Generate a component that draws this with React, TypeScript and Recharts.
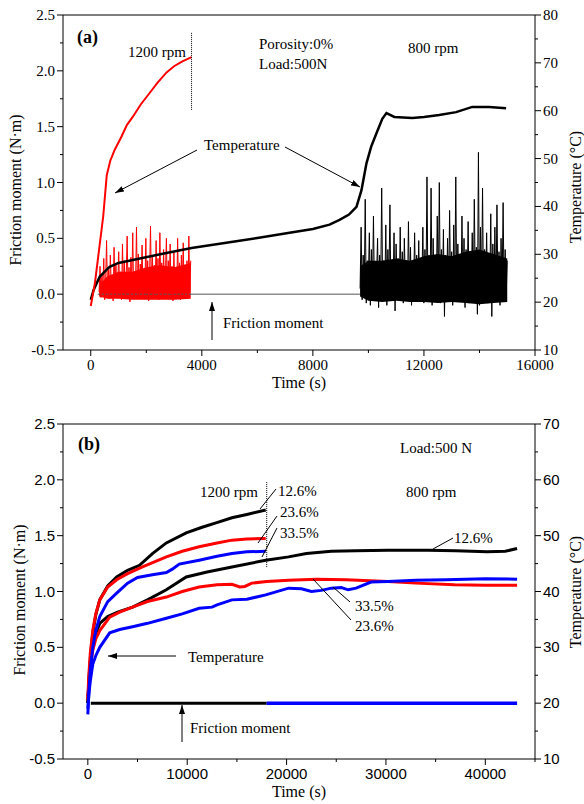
import React from 'react';
import { ComposedChart, Line, Area, XAxis, YAxis, ReferenceLine } from 'recharts';

// ---------- panel (a): porosity 0 %, load 500 N ----------
// temperature, [time s, °C]
const tempRedA: [number, number][] = [
  [0, 19.2], [150, 24], [300, 31], [450, 38], [575, 46.5], [700, 49.5], [860, 51.8],
  [1100, 54.5], [1300, 57], [1510, 58.7], [1800, 61.3], [2120, 63.7], [2400, 65.8],
  [2730, 68], [3000, 69.3], [3300, 70.3], [3630, 71.2],
];
const tempBlackA: [number, number][] = [
  [0, 20.5], [100, 22.5], [320, 25.3], [680, 27.4], [1000, 28.2], [1510, 28.8], [2500, 30],
  [3630, 31.3], [5000, 32.5], [6000, 33.4], [7160, 34.5], [8000, 35.3], [8600, 36.2], [8960, 37.2],
  [9300, 38.3], [9570, 39.9], [9750, 43.4], [9930, 49], [10100, 52.5], [10290, 55.3],
  [10500, 58.3], [10650, 59.5], [10935, 58.7], [11580, 58.5], [12000, 58.7], [12550, 59.1],
  [13160, 59.7], [13740, 60.8], [14350, 60.8], [14960, 60.5],
];
// friction moment (N·m) spikes, sampled evenly between start and end time
const redFricStartA = 300;
const redFricEndA = 3600;
const redFricA = [
  0.02, 0.25, -0.03, 0.18, 0.05, 0.32, -0.05, 0.12, 0.48, 0.0, 0.22, -0.04, 0.35, 0.08, 0.15,
  -0.06, 0.42, 0.03, 0.28, -0.02, 0.1, 0.38, 0.0, 0.2, -0.05, 0.45, 0.06, 0.3, -0.03, 0.16,
  0.52, 0.02, 0.24, -0.07, 0.33, 0.1, 0.55, -0.02, 0.2, 0.08, 0.6, 0.0, 0.36, -0.04, 0.27,
  0.12, 0.44, -0.03, 0.22, 0.05, 0.5, 0.01, 0.3, -0.06, 0.18, 0.61, 0.04, 0.35, -0.02, 0.26,
  0.09, 0.48, 0.0, 0.32, -0.05, 0.55, 0.07, 0.28, -0.03, 0.4, 0.02, 0.2, 0.5, -0.04, 0.3,
  0.08, 0.45, 0.0, 0.25, -0.06, 0.38, 0.05, 0.22, -0.02, 0.5, 0.03, 0.28, -0.05, 0.35, 0.1,
  0.46, -0.03, 0.2, 0.06, 0.3, -0.04, 0.52, 0.02, 0.3,
];
// dense core of the friction signal, [time, low, high]
const redCoreA: [number, number, number][] = [
  [300, -0.02, 0.08], [600, -0.04, 0.16], [1000, -0.04, 0.2], [1500, -0.05, 0.2],
  [2000, -0.05, 0.24], [2500, -0.05, 0.26], [3000, -0.05, 0.24], [3600, -0.04, 0.28],
];
const blackFricStartA = 9700;
const blackFricEndA = 15000;
const blackFricA = [
  0.05, 0.6, -0.05, 0.35, 0.0, 0.85, -0.08, 0.3, 0.1, 0.55, -0.1, 0.4, 0.02, 0.7, -0.06,
  0.25, 0.15, 0.5, -0.12, 0.35, 0.05, 0.95, -0.04, 0.3, 0.0, 0.62, -0.1, 0.4, 0.08, 0.8,
  -0.05, 0.28, 0.02, 0.55, -0.15, 0.45, 0.06, 0.32, -0.03, 0.6, 0.0, 0.38, -0.08, 0.5, 0.1,
  0.3, -0.05, 0.65, 0.02, 0.42, -0.1, 0.28, 0.05, 0.55, -0.06, 0.35, 0.0, 0.48, -0.04, 0.3,
  0.08, 0.6, -0.08, 0.4, 0.03, 1.05, -0.05, 0.35, 0.0, 0.95, -0.1, 0.5, 0.06, 0.3, -0.03,
  0.7, 0.02, 1.0, -0.08, 0.4, 0.05, 0.58, -0.2, 0.35, 0.0, 0.5, -0.05, 0.75, 0.04, 0.38,
  -0.1, 0.62, 0.02, 1.05, -0.06, 0.45, 0.08, 0.35, -0.04, 0.7, 0.0, 0.5, -0.12, 0.4, 0.05,
  0.65, -0.08, 0.3, 0.02, 0.55, -0.05, 0.85, 0.06, 0.42, -0.18, 1.27, -0.1, 0.6, 0.0, 0.95,
  -0.06, 0.4, 0.04, 0.55, -0.08, 0.35, 0.02, 0.72, -0.2, 0.45, 0.0, 0.6, -0.05, 0.8, 0.03,
  0.38, -0.1, 0.5, 0.05, 0.82, -0.06, 0.4, 0.0, 0.3,
];
const blackCoreA: [number, number, number][] = [
  [9700, -0.02, 0.25], [10000, -0.06, 0.3], [10500, -0.07, 0.3], [11000, -0.06, 0.32],
  [11500, -0.07, 0.3], [12000, -0.07, 0.34], [12500, -0.08, 0.36], [13000, -0.07, 0.34],
  [13500, -0.08, 0.38], [14000, -0.09, 0.4], [14500, -0.08, 0.36], [15000, -0.07, 0.32],
];
const zeroLineA: [number, number][] = [[250, 0], [9700, 0]];

const xTicksA = [0, 2000, 4000, 6000, 8000, 10000, 12000, 14000, 16000];
const tempTicksA = [10, 15, 20, 25, 30, 35, 40, 45, 50, 55, 60, 65, 70, 75, 80];

// ---------- panel (b): load 500 N, three porosities ----------
const hiBlackB: [number, number][] = [
  [0, 20], [100, 24], [250, 28], [500, 32.6], [800, 35.8], [1200, 38.5], [2000, 41], [2900, 42.6],
  [4000, 43.8], [5200, 44.7], [6500, 46.8], [7900, 48.7], [9900, 50.5], [11500, 51.5],
  [12900, 52.3], [14500, 53.2], [16000, 53.8], [17900, 54.6],
];
const hiRedB: [number, number][] = [
  [0, 21], [100, 25], [250, 29], [500, 33], [800, 36], [1200, 38.5], [2000, 40.8], [2900, 42.1],
  [4000, 43.2], [5500, 44.4], [7900, 46.2], [9500, 47.2], [11200, 48], [13000, 48.7],
  [14500, 49.2], [16000, 49.4], [17900, 49.5],
];
const hiBlueB: [number, number][] = [
  [0, 18], [100, 22], [250, 26], [500, 30], [800, 33], [1200, 35.5], [2000, 38.2], [2900, 39.7],
  [4000, 41.5], [5000, 42.5], [6500, 43], [7900, 43.4], [8500, 44], [9200, 44.9], [11200, 45.6],
  [13000, 46.3], [14500, 46.8], [16000, 47.1], [17900, 47.2],
];
const loBlackB: [number, number][] = [
  [0, 20], [100, 23.5], [250, 27], [500, 30.5], [800, 32.5], [1200, 34.3], [2000, 35.5],
  [3000, 36.3], [4500, 37.2], [6000, 38.5], [7900, 40.3], [9900, 42.6], [12000, 43.5],
  [14500, 44.4], [17900, 45.6], [20200, 46.2], [22000, 46.8], [24500, 47.2], [27000, 47.3],
  [30200, 47.4], [34200, 47.4], [37000, 47.3], [40200, 47.1], [42000, 47.2], [43200, 47.7],
];
const loRedB: [number, number][] = [
  [0, 20.5], [100, 23], [250, 26.5], [500, 29.5], [800, 31.5], [1200, 33], [2200, 35.4],
  [3200, 36.3], [4500, 37.2], [6000, 38.2], [7900, 39], [9500, 40], [11200, 40.8], [13000, 41.2],
  [14500, 41.3], [15300, 40.8], [15800, 40.9], [16500, 41.5], [18000, 41.8], [20200, 42],
  [23000, 42.2], [26000, 42.1], [30200, 41.8], [33000, 41.5], [36900, 41.2], [40000, 41.1],
  [43200, 41.1],
];
const loBlueB: [number, number][] = [
  [0, 19], [100, 21.5], [250, 24], [500, 27], [800, 28.5], [1200, 30], [2200, 32.6], [3200, 33.2],
  [4500, 33.7], [6000, 34.3], [7900, 35.2], [9500, 36], [11200, 37], [12500, 37.2], [13000, 37.6],
  [14500, 38.5], [16000, 38.6], [17900, 39.4], [20200, 40.6], [21500, 40.5], [22500, 40],
  [23500, 40.2], [24500, 40.6], [25500, 40.7], [26200, 40.3], [27000, 40.6], [28500, 41.7],
  [30200, 41.8], [33000, 42], [36000, 42.1], [40000, 42.3], [43200, 42.2],
];
const fricBlackB: [number, number][] = [[300, 0], [18000, 0]];
const fricBlueB: [number, number][] = [[18000, 0], [43200, 0]];

const xTicksB = [0, 5000, 10000, 15000, 20000, 25000, 30000, 35000, 40000, 45000];
const tempTicksB = [10, 15, 20, 25, 30, 35, 40, 45, 50, 55, 60, 65, 70];
const fricTicks = [-0.5, -0.25, 0, 0.25, 0.5, 0.75, 1, 1.25, 1.5, 1.75, 2, 2.25, 2.5];

const SERIF = 'Liberation Serif';
const SANS = 'Liberation Sans';

const pts = (a: [number, number][]) => a.map(([t, v]) => ({ t, v }));
const band = (a: [number, number, number][]) => a.map(([t, lo, hi]) => ({ t, r: [lo, hi] }));
const spread = (vals: number[], t0: number, t1: number) =>
  vals.map((v, i) => ({ t: t0 + ((t1 - t0) * i) / (vals.length - 1), v }));

const near = (v: number, step: number) => Math.abs(v / step - Math.round(v / step)) < 1e-6;

function tickFor(side: 'left' | 'right' | 'bottom', step: number, fmt: (v: number) => string, font: string) {
  return (p: any) => {
    const { x, y, payload } = p;
    const v = payload.value;
    const major = near(v, step);
    const len = major ? 6 : 3;
    const ts = { fontFamily: font, fontSize: 15, fill: '#000' };
    if (side === 'bottom')
      return (
        <g>
          <line x1={x} y1={y} x2={x} y2={y + len} stroke="#000" />
          {major && <text x={x} y={y + 20} textAnchor="middle" style={ts}>{fmt(v)}</text>}
        </g>
      );
    if (side === 'left')
      return (
        <g>
          <line x1={x - len} y1={y} x2={x} y2={y} stroke="#000" />
          {major && <text x={x - 8} y={y + 5} textAnchor="end" style={ts}>{fmt(v)}</text>}
        </g>
      );
    return (
      <g>
        <line x1={x} y1={y} x2={x + len} y2={y} stroke="#000" />
        {major && <text x={x + 8} y={y + 5} textAnchor="start" style={ts}>{fmt(v)}</text>}
      </g>
    );
  };
}

const f1 = (v: number) => v.toFixed(1);
const f0 = (v: number) => String(v);

function Overlay() {
  const t = { fontFamily: SERIF, fontSize: 15, fill: '#000' };
  const ln = { stroke: '#000', strokeWidth: 1 };
  return (
    <svg width={584} height={804} style={{ position: 'absolute', left: 0, top: 0, pointerEvents: 'none' }}>
      <defs>
        <marker id="ah" markerWidth="9" markerHeight="6" refX="9" refY="3" orient="auto" markerUnits="userSpaceOnUse">
          <path d="M0,0 L9,3 L0,6 Z" fill="#000" />
        </marker>
      </defs>
      {/* axis titles */}
      <text transform="translate(21,190) rotate(-90)" textAnchor="middle" style={{ ...t, fontSize: 16 }}>Friction moment (N·m)</text>
      <text transform="translate(581,187) rotate(-90)" textAnchor="middle" style={{ ...t, fontSize: 16 }}>Temperature (°C)</text>
      <text x={299} y={388} textAnchor="middle" style={{ ...t, fontSize: 16 }}>Time (s)</text>
      <text transform="translate(25,600) rotate(-90)" textAnchor="middle" style={{ ...t, fontSize: 16 }}>Friction moment (N·m)</text>
      <text transform="translate(581,592) rotate(-90)" textAnchor="middle" style={{ ...t, fontSize: 16 }}>Temperature (°C)</text>
      <text x={299} y={797} textAnchor="middle" style={{ ...t, fontSize: 16 }}>Time (s)</text>

      {/* panel (a) notes */}
      <text x={77} y={43} style={{ ...t, fontSize: 18, fontWeight: 'bold' }}>(a)</text>
      <text x={128} y={57} style={t}>1200 rpm</text>
      <text x={259} y={49} style={t}>Porosity:0%</text>
      <text x={259} y={69} style={t}>Load:500N</text>
      <text x={408} y={53} style={t}>800 rpm</text>
      <text x={204} y={150} style={t}>Temperature</text>
      <line x1={197} y1={150} x2={115} y2={193} {...ln} markerEnd="url(#ah)" />
      <line x1={285} y1={147} x2={360} y2={187} {...ln} markerEnd="url(#ah)" />
      <text x={223} y={328} style={t}>Friction moment</text>
      <line x1={212} y1={340} x2={212} y2={302} {...ln} markerEnd="url(#ah)" />

      {/* panel (b) notes */}
      <text x={78} y={450} style={{ ...t, fontSize: 18, fontWeight: 'bold' }}>(b)</text>
      <text x={400} y={453} style={t}>Load:500 N</text>
      <text x={200} y={497} style={t}>1200 rpm</text>
      <text x={406} y={497} style={t}>800 rpm</text>
      <text x={278} y={496} style={t}>12.6%</text>
      <text x={280} y={517} style={t}>23.6%</text>
      <text x={280} y={538} style={t}>33.5%</text>
      <line x1={260} y1={509} x2={276} y2={489} {...ln} />
      <line x1={258} y1={543} x2={277} y2={516} {...ln} />
      <line x1={262} y1={557} x2={277} y2={528} {...ln} />
      <text x={454} y={543} style={t}>12.6%</text>
      <line x1={433} y1={549} x2={453} y2={538} {...ln} />
      <text x={355} y={611} style={t}>33.5%</text>
      <line x1={333} y1={587} x2={350} y2={602} {...ln} />
      <text x={355} y={631} style={t}>23.6%</text>
      <line x1={313} y1={579} x2={351} y2={620} {...ln} />
      <text x={188} y={662} style={t}>Temperature</text>
      <line x1={176} y1={656} x2={108} y2={656} {...ln} markerEnd="url(#ah)" />
      <text x={190} y={733} style={t}>Friction moment</text>
      <line x1={182} y1={742} x2={182} y2={705} {...ln} markerEnd="url(#ah)" />
    </svg>
  );
}

export default function App() {
  const axisLine = { stroke: '#000', strokeWidth: 1 };
  return (
    <div style={{ position: 'absolute', left: 0, top: 0, width: 584, height: 804, background: '#fff' }}>
      <div style={{ position: 'absolute', left: 0, top: 0 }}>
        <ComposedChart width={584} height={400} margin={{ top: 15, right: 0, bottom: 0, left: 0 }}>
          <XAxis dataKey="t" type="number" domain={[-1000, 16000]} ticks={xTicksA} interval={0}
            allowDataOverflow height={50} tickSize={0} tickMargin={0} tickLine={false} axisLine={axisLine}
            tick={tickFor('bottom', 4000, f0, SERIF)} />
          <YAxis yAxisId="f" orientation="left" domain={[-0.5, 2.5]} ticks={fricTicks} interval={0}
            allowDataOverflow width={63} tickSize={0} tickMargin={0} tickLine={false} axisLine={axisLine}
            tick={tickFor('left', 0.5, f1, SERIF)} />
          <YAxis yAxisId="T" orientation="right" domain={[10, 80]} ticks={tempTicksA} interval={0}
            allowDataOverflow width={49} tickSize={0} tickMargin={0} tickLine={false} axisLine={axisLine}
            tick={tickFor('right', 10, f0, SERIF)} />
          <ReferenceLine yAxisId="f" y={2.5} stroke="#000" />
          <Line yAxisId="f" data={pts(zeroLineA)} dataKey="v" stroke="#555" strokeWidth={1} dot={false} isAnimationActive={false} />
          <Area yAxisId="f" data={band(redCoreA)} dataKey="r" type="linear" stroke="none" fill="#ff0000" fillOpacity={1} isAnimationActive={false} />
          <Line yAxisId="f" data={spread(redFricA, redFricStartA, redFricEndA)} dataKey="v" stroke="#ff0000" strokeWidth={1} dot={false} isAnimationActive={false} />
          <Area yAxisId="f" data={band(blackCoreA)} dataKey="r" type="linear" stroke="none" fill="#000" fillOpacity={1} isAnimationActive={false} />
          <Line yAxisId="f" data={spread(blackFricA, blackFricStartA, blackFricEndA)} dataKey="v" stroke="#000" strokeWidth={1} dot={false} isAnimationActive={false} />
          <Line yAxisId="T" data={pts(tempBlackA)} dataKey="v" stroke="#000" strokeWidth={2.5} dot={false} isAnimationActive={false} />
          <Line yAxisId="T" data={pts(tempRedA)} dataKey="v" stroke="#ff0000" strokeWidth={2} dot={false} isAnimationActive={false} />
          <ReferenceLine yAxisId="f" segment={[{ x: 3630, y: 2.34 }, { x: 3630, y: 1.65 }]} stroke="#000" strokeDasharray="1 1" />
        </ComposedChart>
      </div>
      <div style={{ position: 'absolute', left: 0, top: 400 }}>
        <ComposedChart width={584} height={404} margin={{ top: 24, right: 0, bottom: 0, left: 0 }}>
          <XAxis dataKey="t" type="number" domain={[-2500, 45000]} ticks={xTicksB} interval={0}
            allowDataOverflow height={45} tickSize={0} tickMargin={0} tickLine={false} axisLine={axisLine}
            tick={tickFor('bottom', 10000, f0, SANS)} />
          <YAxis yAxisId="f" orientation="left" domain={[-0.5, 2.5]} ticks={fricTicks} interval={0}
            allowDataOverflow width={63} tickSize={0} tickMargin={0} tickLine={false} axisLine={axisLine}
            tick={tickFor('left', 0.5, f1, SANS)} />
          <YAxis yAxisId="T" orientation="right" domain={[10, 70]} ticks={tempTicksB} interval={0}
            allowDataOverflow width={49} tickSize={0} tickMargin={0} tickLine={false} axisLine={axisLine}
            tick={tickFor('right', 10, f0, SANS)} />
          <ReferenceLine yAxisId="f" y={2.5} stroke="#000" />
          <Line yAxisId="f" data={pts(fricBlackB)} dataKey="v" stroke="#000" strokeWidth={3} dot={false} isAnimationActive={false} />
          <Line yAxisId="f" data={pts(fricBlueB)} dataKey="v" stroke="#0000ff" strokeWidth={3.5} dot={false} isAnimationActive={false} />
          <Line yAxisId="T" data={pts(hiBlackB)} dataKey="v" stroke="#000" strokeWidth={3} dot={false} isAnimationActive={false} />
          <Line yAxisId="T" data={pts(loBlackB)} dataKey="v" stroke="#000" strokeWidth={3} dot={false} isAnimationActive={false} />
          <Line yAxisId="T" data={pts(hiRedB)} dataKey="v" stroke="#ff0000" strokeWidth={3} dot={false} isAnimationActive={false} />
          <Line yAxisId="T" data={pts(loRedB)} dataKey="v" stroke="#ff0000" strokeWidth={3} dot={false} isAnimationActive={false} />
          <Line yAxisId="T" data={pts(hiBlueB)} dataKey="v" stroke="#0000ff" strokeWidth={3} dot={false} isAnimationActive={false} />
          <Line yAxisId="T" data={pts(loBlueB)} dataKey="v" stroke="#0000ff" strokeWidth={3} dot={false} isAnimationActive={false} />
          <ReferenceLine yAxisId="f" segment={[{ x: 18000, y: 1.98 }, { x: 18000, y: 1.21 }]} stroke="#000" strokeDasharray="1 1" />
        </ComposedChart>
      </div>
      <Overlay />
    </div>
  );
}
